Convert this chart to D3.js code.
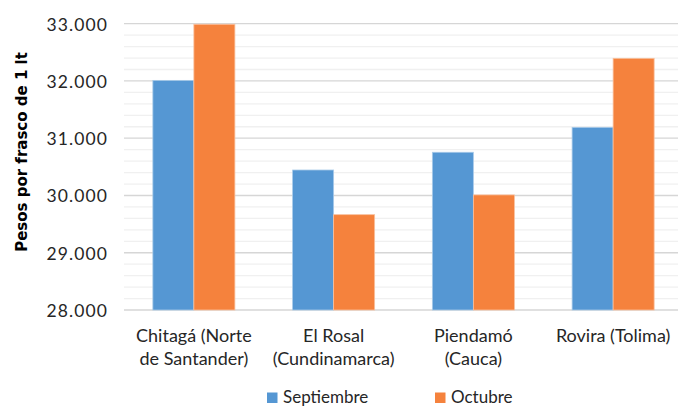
<!DOCTYPE html>
<html><head><meta charset="utf-8">
<script src="https://cdn.jsdelivr.net/npm/d3@7"></script>
<style>
html,body{margin:0;padding:0;background:#fff;}
svg{display:block;font-family:"Lato","DejaVu Sans",sans-serif;}
</style></head>
<body>
<svg id="c" width="678" height="407"></svg>
<script>
const categories = [["Chitagá (Norte","de Santander)"],["El Rosal","(Cundinamarca)"],["Piendamó","(Cauca)"],["Rovira (Tolima)"]];
const seriesNames = ["Septiembre","Octubre"];
const septiembre = [32010, 30445, 30755, 31190];
const octubre = [32990, 29665, 30010, 32395];
const yTicks = [28000, 29000, 30000, 31000, 32000, 33000];
const colors = ["#5597D3", "#F5823D"];

const svg = d3.select("#c");
const mLeft = 124, mRight = 683, mTop = 23.7, mBottom = 310;
const y = d3.scaleLinear().domain([28000, 33000]).range([mBottom, mTop]);
const x0 = d3.scaleBand().domain(d3.range(categories.length)).range([mLeft, mRight]).paddingInner(0.413).paddingOuter(0.2065);
const x1 = d3.scaleBand().domain(d3.range(seriesNames.length)).range([0, x0.bandwidth()]);

// minor gridlines
const minor = d3.range(28200, 33000, 200).filter(v => v % 1000 !== 0);
svg.append("g").selectAll("line").data(minor).join("line")
  .attr("x1", mLeft).attr("x2", 678)
  .attr("y1", d => y(d)).attr("y2", d => y(d))
  .attr("stroke", "#f0f0f0").attr("stroke-width", 1.3);
// major gridlines
svg.append("g").selectAll("line").data(yTicks).join("line")
  .attr("x1", mLeft).attr("x2", 678)
  .attr("y1", d => y(d)).attr("y2", d => y(d))
  .attr("stroke", "#d6d6d6").attr("stroke-width", 1.3);

const fmt = v => d3.format(",")(v).replace(/,/g, ".");
const yAxis = d3.axisLeft(y).tickValues(yTicks).tickFormat(fmt).tickSize(0).tickPadding(0);
const ya = svg.append("g").attr("transform", `translate(108,0)`).call(yAxis);
ya.select(".domain").remove();
ya.selectAll("text").attr("font-size", 17.5).attr("letter-spacing", 1.1).attr("fill", "#262626").attr("font-family", "Lato, sans-serif").attr("dy", "0.36em");

// bars
const data = [septiembre, octubre];
const g = svg.append("g");
categories.forEach((c, i) => {
  data.forEach((s, j) => {
    g.append("rect")
      .attr("x", x0(i) + x1(j))
      .attr("y", y(s[i]))
      .attr("width", x1.bandwidth())
      .attr("height", y(28000) - y(s[i]))
      .attr("fill", colors[j])
      .attr("stroke", j === 0 ? "#a9cbe9" : "#f9c09e")
      .attr("stroke-width", 0.8);
  });
});

// category labels
categories.forEach((c, i) => {
  const t = svg.append("text").attr("text-anchor", "middle")
    .attr("font-size", 18).attr("fill", "#262626");
  c.forEach((line, k) => {
    t.append("tspan").attr("x", x0(i) + x0.bandwidth() / 2).attr("y", 341.5 + k * 23.5).text(line);
  });
});

// y title
svg.append("text").attr("transform", "translate(27,152) rotate(-90)")
  .attr("text-anchor", "middle").attr("font-size", 15).attr("font-weight", "bold")
  .attr("font-family", "DejaVu Sans, sans-serif")
  .attr("fill", "#000").text("Pesos por frasco de 1 lt");

// legend
const legX = [267, 435];
seriesNames.forEach((n, j) => {
  svg.append("rect").attr("x", legX[j]).attr("y", 392.5).attr("width", 10.5).attr("height", 10.5).attr("fill", colors[j]);
  svg.append("text").attr("x", legX[j] + 16).attr("y", 403).attr("font-size", 17).attr("fill", "#262626").text(n);
});
</script>
</body></html>
